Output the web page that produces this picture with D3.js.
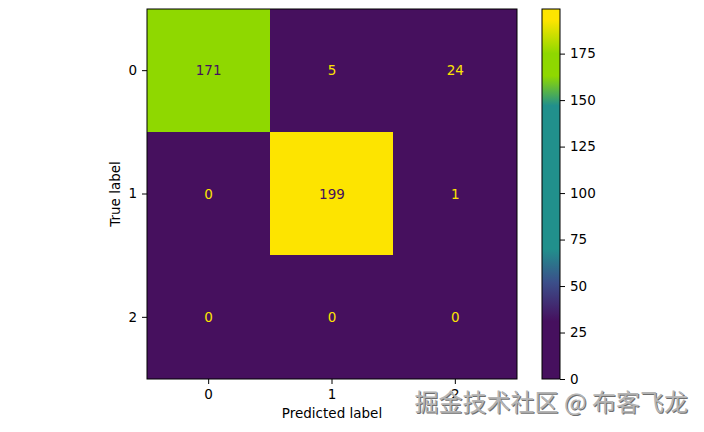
<!DOCTYPE html>
<html><head><meta charset="utf-8">
<script src="https://cdn.jsdelivr.net/npm/d3@7"></script>
<style>body{margin:0;background:#fff}svg{display:block}</style>
</head><body>
<svg id="c" width="704" height="432"></svg>
<script>
const trueLabels = ["0","1","2"];
const predLabels = ["0","1","2"];
const matrix = [
  [171, 5, 24],
  [0, 199, 1],
  [0, 0, 0]
];
const colorbarTicks = [0,25,50,75,100,125,150,175];
// palette-quantized viridis as it appears in the reference
const colorStops = [0, 31, 52, 70, 147, 163, 175, 193, 199];
const stopColors = ["#46105e","#46105e","#3b4f8a","#21908c","#21908c","#8fd800","#8fd800","#fde400","#fde400"];

const svg = d3.select("#c");
const font = "DejaVu Sans, sans-serif";
const L=147, T=9, S=370;
const x = d3.scaleBand().domain(predLabels).range([L, L+S]);
const y = d3.scaleBand().domain(trueLabels).range([T, T+S]);
const vmax = d3.max(matrix.flat()), vmin = d3.min(matrix.flat());
const color = d3.scaleLinear().domain(colorStops).range(stopColors).interpolate(d3.interpolateRgb).clamp(true);

const cells = [];
matrix.forEach((row,i)=>row.forEach((v,j)=>cells.push({t:trueLabels[i],p:predLabels[j],v})));
svg.selectAll("rect.cell").data(cells).join("rect")
  .attr("x",d=>Math.floor(x(d.p))).attr("y",d=>Math.floor(y(d.t)))
  .attr("width",x.bandwidth()+1).attr("height",y.bandwidth()+1)
  .attr("shape-rendering","crispEdges")
  .attr("fill",d=>color(d.v));
const thresh = (vmax+vmin)/2;
svg.selectAll("text.val").data(cells).join("text")
  .attr("x",d=>x(d.p)+x.bandwidth()/2).attr("y",d=>y(d.t)+y.bandwidth()/2)
  .attr("dy","0.35em").attr("text-anchor","middle")
  .attr("font-family",font).attr("font-size",13.5)
  .attr("fill",d=>d.v<thresh?color(vmax):color(vmin))
  .text(d=>d.v);
svg.append("rect").attr("x",L).attr("y",T).attr("width",S).attr("height",S)
  .attr("fill","none").attr("stroke","#000").attr("stroke-width",1);

const xAxis = svg.append("g").attr("transform",`translate(0,${T+S})`)
  .call(d3.axisBottom(x).tickSize(5).tickPadding(5));
const yAxis = svg.append("g").attr("transform",`translate(${L},0)`)
  .call(d3.axisLeft(y).tickSize(5).tickPadding(5));
[xAxis,yAxis].forEach(g=>{g.select(".domain").remove();
  g.selectAll("text").attr("font-family",font).attr("font-size",13.5).attr("fill","#000");
  g.selectAll("line").attr("stroke","#000");});

svg.append("text").attr("x",L+S/2).attr("y",418).attr("text-anchor","middle")
  .attr("font-family",font).attr("font-size",13.5).text("Predicted label");
svg.append("text").attr("transform",`translate(120,${T+S/2}) rotate(-90)`)
  .attr("text-anchor","middle").attr("font-family",font).attr("font-size",13.5).text("True label");

// colorbar
const CX=542, CW=18;
const cy = d3.scaleLinear().domain([vmin,vmax]).range([T+S, T]);
const defs = svg.append("defs");
const grad = defs.append("linearGradient").attr("id","g")
  .attr("gradientUnits","userSpaceOnUse").attr("x1",0).attr("x2",0)
  .attr("y1",cy(vmin)).attr("y2",cy(vmax));
grad.selectAll("stop").data(colorStops).join("stop")
  .attr("offset",d=>(d-vmin)/(vmax-vmin)).attr("stop-color",d=>color(d));
svg.append("rect").attr("x",CX).attr("y",T).attr("width",CW).attr("height",S).attr("fill","url(#g)")
  .attr("stroke","#000").attr("stroke-width",1);
const cAxis = svg.append("g").attr("transform",`translate(${CX+CW},0)`)
  .call(d3.axisRight(cy).tickValues(colorbarTicks).tickSize(5).tickPadding(5));
cAxis.select(".domain").remove();
cAxis.selectAll("text").attr("font-family",font).attr("font-size",13.5).attr("fill","#000");
cAxis.selectAll("line").attr("stroke","#000");

// watermark
const wm = "掘金技术社区 @ 布客飞龙";
svg.append("text").attr("x",689).attr("y",412).attr("text-anchor","end")
  .attr("font-family","Noto Sans CJK SC, sans-serif").attr("font-size",24)
  .attr("fill","#6e6e6e").text(wm);
svg.append("text").attr("x",688).attr("y",411).attr("text-anchor","end")
  .attr("font-family","Noto Sans CJK SC, sans-serif").attr("font-size",24)
  .attr("fill","#b4b4b4").text(wm);
</script>
</body></html>
